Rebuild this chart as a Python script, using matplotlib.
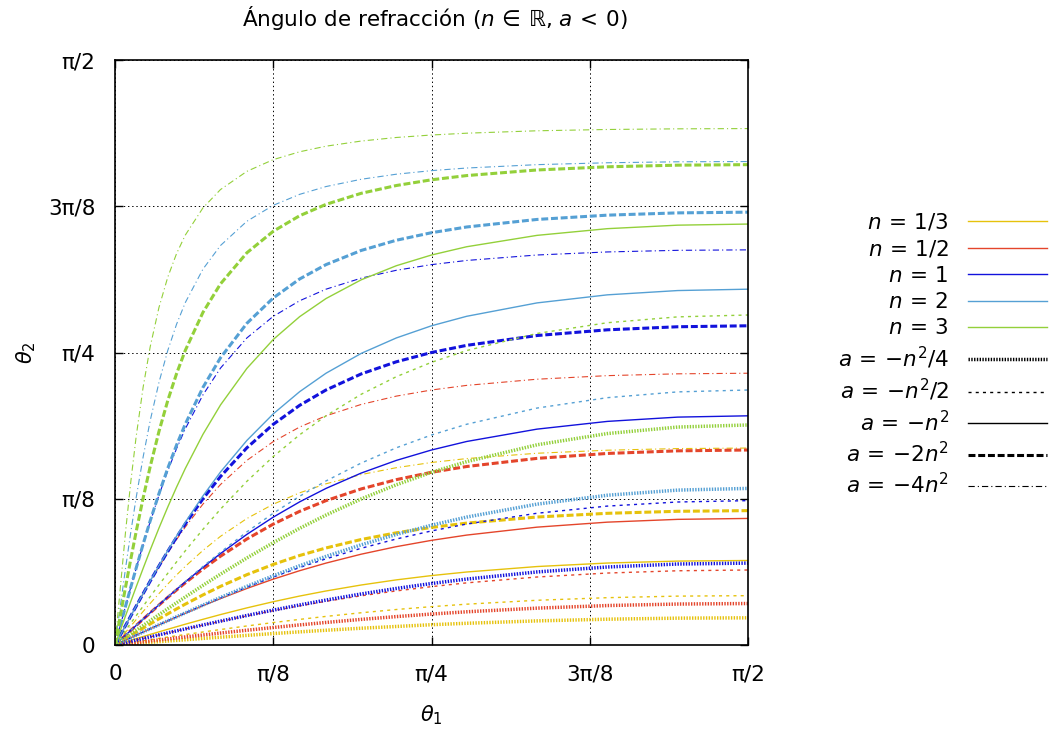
import numpy as np
import matplotlib.pyplot as plt
from matplotlib.lines import Line2D

plt.rcParams["font.family"] = ["DejaVu Sans"]
plt.rcParams["mathtext.fontset"] = "dejavusans"
plt.rcParams["lines.scale_dashes"] = False

# incidence angle theta_1 (degrees)
theta1_deg = [0, 1.5, 2.25, 3, 4, 5, 6.25, 7.5, 8.75, 10, 12.5, 15, 18.75,
              22.5, 26.25, 30, 35, 40, 45, 50, 60, 70, 80, 90]

# refraction angle theta_2 (degrees), one row per a = -n^2/4, -n^2/2, -n^2, -2n^2, -4n^2
theta2_n1_3 = [
    [0, 0.12, 0.18, 0.25, 0.33, 0.41, 0.51, 0.61, 0.71, 0.81, 1.01, 1.20, 1.48, 1.76, 2.02, 2.27, 2.58, 2.85, 3.12, 3.34, 3.71, 3.97, 4.13, 4.18],
    [0, 0.25, 0.37, 0.49, 0.65, 0.81, 1.02, 1.22, 1.42, 1.61, 2.00, 2.38, 2.93, 3.45, 3.94, 4.40, 4.96, 5.46, 5.90, 6.28, 6.88, 7.28, 7.52, 7.59],
    [0, 0.49, 0.73, 0.98, 1.30, 1.63, 2.02, 2.42, 2.81, 3.20, 3.95, 4.68, 5.71, 6.66, 7.53, 8.31, 9.23, 10.02, 10.68, 11.23, 12.07, 12.61, 12.91, 13.00],
    [0, 0.98, 1.47, 1.95, 2.60, 3.24, 4.02, 4.79, 5.55, 6.29, 7.70, 9.02, 10.82, 12.40, 13.77, 14.93, 16.23, 17.26, 18.09, 18.75, 19.69, 20.26, 20.57, 20.67],
    [0, 1.96, 2.93, 3.89, 5.16, 6.40, 7.91, 9.37, 10.77, 12.10, 14.55, 16.72, 19.46, 21.66, 23.41, 24.80, 26.22, 27.28, 28.08, 28.68, 29.50, 29.97, 30.22, 30.30],
]
theta2_n1_2 = [
    [0, 0.19, 0.28, 0.37, 0.50, 0.62, 0.78, 0.93, 1.09, 1.24, 1.54, 1.84, 2.27, 2.69, 3.09, 3.47, 3.94, 4.37, 4.76, 5.11, 5.67, 6.07, 6.30, 6.38],
    [0, 0.37, 0.56, 0.75, 1.00, 1.25, 1.55, 1.86, 2.17, 2.47, 3.06, 3.64, 4.48, 5.28, 6.02, 6.72, 7.57, 8.32, 8.98, 9.56, 10.46, 11.07, 11.42, 11.54],
    [0, 0.75, 1.12, 1.50, 1.99, 2.49, 3.10, 3.70, 4.30, 4.89, 6.04, 7.14, 8.70, 10.13, 11.43, 12.60, 13.97, 15.13, 16.10, 16.91, 18.13, 18.90, 19.33, 19.47],
    [0, 1.50, 2.24, 2.99, 3.97, 4.94, 6.14, 7.32, 8.46, 9.57, 11.69, 13.66, 16.31, 18.60, 20.56, 22.21, 24.01, 25.44, 26.57, 27.46, 28.71, 29.47, 29.87, 30.00],
    [0, 2.99, 4.48, 5.94, 7.87, 9.75, 12.01, 14.18, 16.23, 18.16, 21.67, 24.69, 28.40, 31.29, 33.53, 35.26, 37.01, 38.29, 39.23, 39.94, 40.89, 41.44, 41.72, 41.81],
]
theta2_n1 = [
    [0, 0.37, 0.56, 0.75, 1.00, 1.25, 1.56, 1.87, 2.17, 2.48, 3.08, 3.67, 4.54, 5.37, 6.16, 6.91, 7.85, 8.70, 9.46, 10.14, 11.24, 12.00, 12.46, 12.60],
    [0, 0.75, 1.12, 1.50, 2.00, 2.49, 3.11, 3.72, 4.32, 4.93, 6.11, 7.25, 8.91, 10.46, 11.92, 13.26, 14.88, 16.31, 17.55, 18.61, 20.27, 21.37, 22.00, 22.21],
    [0, 1.50, 2.25, 2.99, 3.98, 4.96, 6.18, 7.38, 8.55, 9.71, 11.94, 14.07, 17.02, 19.67, 22.02, 24.09, 26.45, 28.40, 30.00, 31.31, 33.21, 34.40, 35.06, 35.26],
    [0, 3.00, 4.48, 5.96, 7.90, 9.82, 12.15, 14.40, 16.57, 18.64, 22.49, 25.92, 30.34, 33.95, 36.87, 39.23, 41.70, 43.57, 45.00, 46.10, 47.61, 48.49, 48.96, 49.11],
    [0, 5.97, 8.90, 11.76, 15.45, 18.96, 23.05, 26.80, 30.21, 33.27, 38.47, 42.60, 47.24, 50.56, 52.96, 54.74, 56.44, 57.65, 58.52, 59.16, 60.00, 60.47, 60.72, 60.79],
]
theta2_n2 = [
    [0, 0.75, 1.12, 1.50, 2.00, 2.49, 3.11, 3.73, 4.34, 4.94, 6.14, 7.31, 9.02, 10.64, 12.19, 13.63, 15.41, 17.01, 18.43, 19.68, 21.67, 23.04, 23.83, 24.09],
    [0, 1.50, 2.25, 2.99, 3.99, 4.97, 6.19, 7.41, 8.60, 9.78, 12.08, 14.28, 17.40, 20.27, 22.89, 25.24, 27.99, 30.34, 32.31, 33.96, 36.45, 38.05, 38.94, 39.23],
    [0, 3.00, 4.49, 5.97, 7.92, 9.85, 12.21, 14.51, 16.74, 18.89, 22.93, 26.62, 31.47, 35.56, 38.97, 41.81, 44.86, 47.24, 49.11, 50.57, 52.63, 53.87, 54.53, 54.74],
    [0, 5.97, 8.91, 11.79, 15.52, 19.09, 23.29, 27.18, 30.75, 34.00, 39.62, 44.19, 49.49, 53.39, 56.31, 58.52, 60.70, 62.27, 63.43, 64.31, 65.47, 66.13, 66.48, 66.59],
    [0, 11.81, 17.39, 22.61, 28.93, 34.49, 40.40, 45.30, 49.34, 52.69, 57.82, 61.46, 65.19, 67.64, 69.33, 70.53, 71.65, 72.43, 72.98, 73.38, 73.90, 74.19, 74.34, 74.38],
]
theta2_n3 = [
    [0, 1.12, 1.69, 2.25, 2.99, 3.74, 4.66, 5.58, 6.49, 7.39, 9.17, 10.90, 13.39, 15.74, 17.95, 19.99, 22.47, 24.65, 26.57, 28.21, 30.80, 32.53, 33.53, 33.85],
    [0, 2.25, 3.37, 4.49, 5.97, 7.44, 9.25, 11.03, 12.78, 14.50, 17.79, 20.90, 25.18, 28.99, 32.34, 35.26, 38.57, 41.28, 43.49, 45.30, 47.93, 49.58, 50.48, 50.77],
    [0, 4.49, 6.71, 8.91, 11.79, 14.60, 17.99, 21.22, 24.28, 27.17, 32.40, 36.93, 42.55, 47.00, 50.51, 53.30, 56.18, 58.35, 60.00, 61.27, 63.02, 64.05, 64.59, 64.76],
    [0, 8.92, 13.24, 17.39, 22.61, 27.43, 32.85, 37.60, 41.74, 45.34, 51.16, 55.56, 60.34, 63.65, 66.04, 67.79, 69.49, 70.69, 71.57, 72.22, 73.08, 73.57, 73.82, 73.90],
    [0, 17.42, 25.16, 31.99, 39.66, 45.86, 51.93, 56.58, 60.21, 63.07, 67.24, 70.07, 72.87, 74.67, 75.88, 76.74, 77.53, 78.08, 78.46, 78.74, 79.11, 79.31, 79.41, 79.45],
]

n_labels = [r"$n\,=\,1/3$", r"$n\,=\,1/2$", r"$n\,=\,1$", r"$n\,=\,2$", r"$n\,=\,3$"]
a_labels = [r"$a\,=\,{-}n^2/4$", r"$a\,=\,{-}n^2/2$", r"$a\,=\,{-}n^2$",
            r"$a\,=\,{-}2n^2$", r"$a\,=\,{-}4n^2$"]
tick_labels = ["0", "π/8", "π/4", "3π/8", "π/2"]

colors = ["#e6c20c", "#e4452b", "#1212dc", "#55a0d4", "#93d03a"]
# line style for each value of a
a_styles = [
    dict(lw=2.5, ls=(0, (1.0, 1.0))),
    dict(lw=1.0, ls=(0, (2.2, 3.0))),
    dict(lw=1.0, ls="-"),
    dict(lw=2.2, ls=(0, (5.0, 2.0))),
    dict(lw=0.8, ls=(0, (4.5, 2.2, 0.8, 2.2))),
]

fig = plt.figure(figsize=(10.51, 7.38), dpi=100)
ax = fig.add_axes([115 / 1051, 93 / 738, 633 / 1051, 585 / 738])

x = np.radians(theta1_deg)
all_series = [theta2_n1_3, theta2_n1_2, theta2_n1, theta2_n2, theta2_n3]
for color, series in zip(colors, all_series):
    for st, vals in zip(a_styles, series):
        ax.plot(x, np.radians(vals), color=color, lw=st["lw"], ls=st["ls"])

ticks = np.arange(5) * np.pi / 8
ax.set_xlim(0, np.pi / 2)
ax.set_ylim(0, np.pi / 2)
ax.set_xticks(ticks)
ax.set_yticks(ticks)
ax.set_xticklabels(tick_labels)
ax.set_yticklabels(tick_labels)
ax.tick_params(direction="in", length=6, width=1, top=True, right=True,
               labelsize=15.5, pad=14)
for sp in ax.spines.values():
    sp.set_linewidth(1.2)
ax.grid(True, color="black", lw=0.7, ls=(0, (1.0, 2.0)))
ax.set_axisbelow(True)

ax.set_xlabel(r"$\theta_1$", fontsize=15)
ax.set_ylabel(r"$\theta_2$", fontsize=15)
ax.xaxis.set_label_coords(0.5, -0.1)
ax.yaxis.set_label_coords(-0.121, 0.5)

fig.text(435 / 1051, 1 - 18 / 738,
         "Ángulo de refracción ($n\\,\\in\\,\\mathrm{ℝ}$, $a\\,<\\,0$)",
         ha="center", va="center", fontsize=15.5)

handles = [Line2D([], [], color=c, lw=1.0) for c in colors]
handles += [Line2D([], [], color="black", lw=st["lw"], ls=st["ls"]) for st in a_styles]
fig.legend(handles, n_labels + a_labels, loc="upper right",
           bbox_to_anchor=(1047 / 1051, 1 - 211.5 / 738), frameon=False,
           markerfirst=False, fontsize=15.5, handlelength=3.65, handletextpad=0.9,
           labelspacing=0.29, borderpad=0, borderaxespad=0)

fig.savefig("out.png", dpi=100)
